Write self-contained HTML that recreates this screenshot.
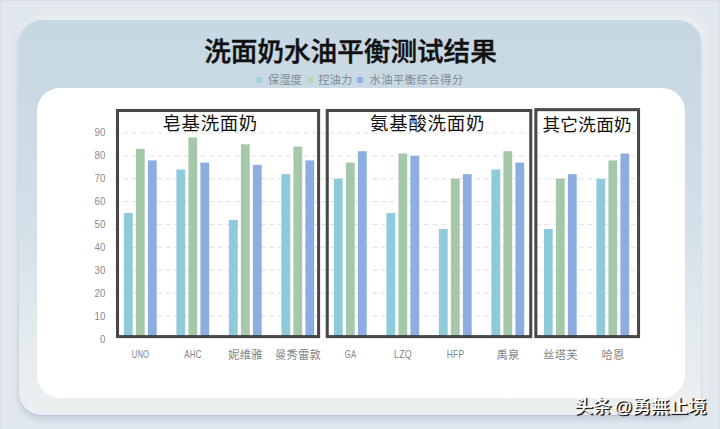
<!DOCTYPE html>
<html lang="zh-CN">
<head>
<meta charset="utf-8">
<title>洗面奶水油平衡测试结果</title>
<style>
  html, body { margin: 0; padding: 0; }
  body {
    width: 720px; height: 429px; overflow: hidden; position: relative;
    background: #e2e9ee;
    font-family: "Liberation Sans", "Noto Sans CJK SC", sans-serif;
  }
  .edge-l { position: absolute; left: 0; top: 0; width: 3px; height: 429px; background: linear-gradient(90deg, #d9dfe6, #e2e9ee); }
  .edge-r { position: absolute; right: 0; top: 0; width: 3px; height: 429px; background: linear-gradient(270deg, #d9dfe6, #e2e9ee); }
  .edge-t { position: absolute; left: 0; top: 0; width: 720px; height: 2px; background: linear-gradient(180deg, #d6dbe1, #e2e9ee); }
  .card {
    position: absolute; left: 19px; top: 19.7px; width: 681.8px; height: 395px;
    border-radius: 23px;
    background: linear-gradient(180deg, #c7d8e2 0%, #ccdbe5 30%, #d5e1e9 55%, #e4ebef 80%, #ecf0f1 100%);
    box-shadow: -1px 5px 6px rgba(176,188,208,0.55), 0 1px 1.5px rgba(170,182,204,0.55), 4px -3px 8px rgba(240,245,250,0.7), inset 0 -3px 3px -1px rgba(232,238,250,0.95);
  }
  .panel {
    position: absolute; left: 36.5px; top: 88.4px; width: 648px; height: 309.6px;
    border-radius: 23px; background: #ffffff;
  }
  .title {
    position: absolute; left: 0; top: 33px; width: 701px; text-align: center;
    font-size: 26.6px; font-weight: 500; -webkit-text-stroke: 0.45px #111; color: #111; line-height: 38px; white-space: nowrap;
  }
  .legend {
    position: absolute; left: 256px; top: 72px; height: 16px; white-space: nowrap;
    font-size: 11.3px; line-height: 16px; color: #7d8a93;
  }
  .legend i { display: inline-block; width: 6px; height: 6px; margin-right: 6px; vertical-align: 1px; }
  .legend span { margin-right: 5.2px; }
  svg { position: absolute; left: 0; top: 0; }
  .wm {
    position: absolute; left: 574.6px; top: 394px; font-size: 18.5px; line-height: 26px; font-weight: 500; word-spacing: -3px;
    color: #fff; white-space: nowrap;
    text-shadow: 1px 1px 0 #111, 1.4px 1.4px 1px rgba(30,30,30,0.85);
  }
</style>
</head>
<body>
<div class="edge-l"></div><div class="edge-r"></div><div class="edge-t"></div>
<div class="card"></div>
<div class="panel"></div>
<div class="title">洗面奶水油平衡测试结果</div>
<div class="legend"><i style="background:#9fd0e0"></i><span>保湿度</span><i style="background:#b4d8b8;margin-right:5.2px"></i><span>控油力</span><i style="background:#8fb0e0"></i><span style="letter-spacing:0.5px">水油平衡综合得分</span></div>

<svg width="720" height="429" viewBox="0 0 720 429">
  <g stroke="#d9d9de" stroke-width="0.85" stroke-dasharray="4.6 4" fill="none">
    <line x1="114.5" x2="639" y1="316.0" y2="316.0"/>
    <line x1="114.5" x2="639" y1="293.1" y2="293.1"/>
    <line x1="114.5" x2="639" y1="270.2" y2="270.2"/>
    <line x1="114.5" x2="639" y1="247.3" y2="247.3"/>
    <line x1="114.5" x2="639" y1="224.4" y2="224.4"/>
    <line x1="114.5" x2="639" y1="201.6" y2="201.6"/>
    <line x1="114.5" x2="639" y1="178.7" y2="178.7"/>
    <line x1="114.5" x2="639" y1="155.8" y2="155.8"/>
    <line x1="114.5" x2="639" y1="132.9" y2="132.9"/>
  </g>
  <g>
    <rect x="123.9" y="213.0" width="8.8" height="124.7" fill="#8fcada"/>
    <rect x="135.9" y="148.9" width="8.8" height="188.8" fill="#a6c8aa"/>
    <rect x="147.9" y="160.4" width="8.8" height="177.3" fill="#8cade0"/>
    <rect x="176.4" y="169.5" width="8.8" height="168.2" fill="#8fcada"/>
    <rect x="188.4" y="137.5" width="8.8" height="200.2" fill="#a6c8aa"/>
    <rect x="200.4" y="162.6" width="8.8" height="175.1" fill="#8cade0"/>
    <rect x="228.9" y="219.9" width="8.8" height="117.8" fill="#8fcada"/>
    <rect x="240.9" y="144.3" width="8.8" height="193.4" fill="#a6c8aa"/>
    <rect x="252.9" y="164.9" width="8.8" height="172.8" fill="#8cade0"/>
    <rect x="281.4" y="174.1" width="8.8" height="163.6" fill="#8fcada"/>
    <rect x="293.4" y="146.6" width="8.8" height="191.1" fill="#a6c8aa"/>
    <rect x="305.4" y="160.4" width="8.8" height="177.3" fill="#8cade0"/>
    <rect x="333.9" y="178.7" width="8.8" height="159.0" fill="#8fcada"/>
    <rect x="345.9" y="162.6" width="8.8" height="175.1" fill="#a6c8aa"/>
    <rect x="357.9" y="151.2" width="8.8" height="186.5" fill="#8cade0"/>
    <rect x="386.4" y="213.0" width="8.8" height="124.7" fill="#8fcada"/>
    <rect x="398.4" y="153.5" width="8.8" height="184.2" fill="#a6c8aa"/>
    <rect x="410.4" y="155.8" width="8.8" height="181.9" fill="#8cade0"/>
    <rect x="438.9" y="229.0" width="8.8" height="108.7" fill="#8fcada"/>
    <rect x="450.9" y="178.7" width="8.8" height="159.0" fill="#a6c8aa"/>
    <rect x="462.9" y="174.1" width="8.8" height="163.6" fill="#8cade0"/>
    <rect x="491.4" y="169.5" width="8.8" height="168.2" fill="#8fcada"/>
    <rect x="503.4" y="151.2" width="8.8" height="186.5" fill="#a6c8aa"/>
    <rect x="515.4" y="162.6" width="8.8" height="175.1" fill="#8cade0"/>
    <rect x="543.9" y="229.0" width="8.8" height="108.7" fill="#8fcada"/>
    <rect x="555.9" y="178.7" width="8.8" height="159.0" fill="#a6c8aa"/>
    <rect x="567.9" y="174.1" width="8.8" height="163.6" fill="#8cade0"/>
    <rect x="596.4" y="178.7" width="8.8" height="159.0" fill="#8fcada"/>
    <rect x="608.4" y="160.4" width="8.8" height="177.3" fill="#a6c8aa"/>
    <rect x="620.4" y="153.5" width="8.8" height="184.2" fill="#8cade0"/>
  </g>
  <g fill="none" stroke="#3d3d3d" stroke-width="3.05" stroke-opacity="0.94">
    <rect x="117.5" y="110.5" width="201.1" height="226.1"/>
    <rect x="327.25" y="110.5" width="203.5" height="226.1"/>
    <rect x="535.85" y="109.65" width="102.7" height="226.95"/>
  </g>
  <g font-family="'Liberation Sans','Noto Sans CJK SC',sans-serif" font-size="11.3" fill="#8a8a8a" text-anchor="end" transform="translate(105.4 0) scale(0.86 1)">
    <text x="0" y="343.0">0</text>
    <text x="0" y="320.0">10</text>
    <text x="0" y="297.1">20</text>
    <text x="0" y="274.1">30</text>
    <text x="0" y="251.2">40</text>
    <text x="0" y="228.2">50</text>
    <text x="0" y="205.3">60</text>
    <text x="0" y="182.3">70</text>
    <text x="0" y="159.3">80</text>
    <text x="0" y="136.4">90</text>
  </g>
  <g font-family="'Liberation Sans','Noto Sans CJK SC',sans-serif" font-size="18.4" fill="#111" text-anchor="middle" letter-spacing="0.7">
    <text x="210.2" y="129.6">皂基洗面奶</text>
    <text x="427.6" y="130.4" letter-spacing="0.8">氨基酸洗面奶</text>
    <text x="587.2" y="130.9" font-size="17.6" letter-spacing="0.3">其它洗面奶</text>
  </g>
  <g font-family="'Liberation Sans','Noto Sans CJK SC',sans-serif" font-size="11.3" fill="#848484" text-anchor="middle" letter-spacing="0.25">
    <text x="140.5" y="358.2" font-size="10.4" textLength="17.3" lengthAdjust="spacingAndGlyphs">UNO</text>
    <text x="193.0" y="358.2" font-size="10.4" textLength="17.5" lengthAdjust="spacingAndGlyphs">AHC</text>
    <text x="245.5" y="358.5">妮维雅</text>
    <text x="298.0" y="358.5">曼秀雷敦</text>
    <text x="350.5" y="358.2" font-size="10.4" textLength="11.4" lengthAdjust="spacingAndGlyphs">GA</text>
    <text x="403.0" y="358.2" font-size="10.4" textLength="18.0" lengthAdjust="spacingAndGlyphs">LZQ</text>
    <text x="455.5" y="358.2" font-size="10.4" textLength="17.6" lengthAdjust="spacingAndGlyphs">HFP</text>
    <text x="508.0" y="358.5">禹泉</text>
    <text x="560.5" y="358.5">丝塔芙</text>
    <text x="613.0" y="358.5">哈恩</text>
  </g>
</svg>
<div class="wm">头条 @勇無止境</div>
</body>
</html>
